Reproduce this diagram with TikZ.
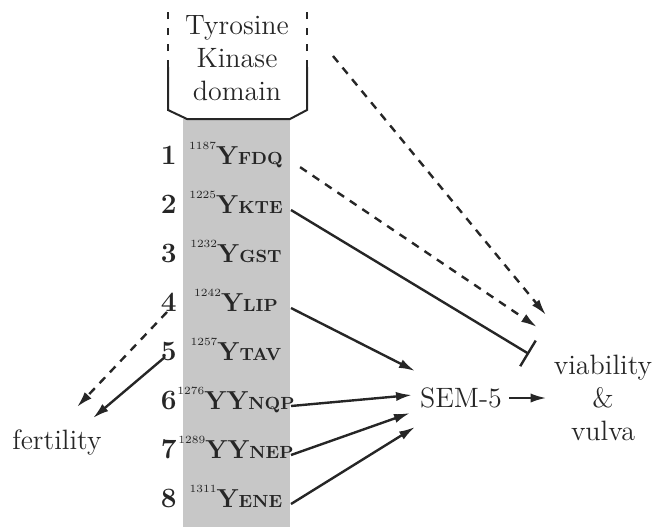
\documentclass[tikz,border=0pt]{standalone}
\usetikzlibrary{arrows.meta}

\begin{document}
\begin{tikzpicture}[x=0.5pt,y=-0.5pt,>={Latex[length=8pt,width=4.6pt]},semithick]
\tikzstyle{every node}=[text=black!85]
\tikzstyle{txt}=[font=\fontsize{14}{16.5}\selectfont, align=center]
\tikzstyle{con}=[draw=black!85, line width=1.2pt]
\tikzstyle{dsh}=[con, dash pattern=on 4pt off 3.5pt]
\useasboundingbox (0,0) rectangle (654,527);
% membrane column and kinase box
\fill[black!22] (183,119) rectangle (290,527);
\draw[line width=1pt, black!85] (168,67) -- (168,110) -- (187,119) -- (290,119) -- (307,110) -- (307,67);
\draw[line width=1pt, black!85, dash pattern=on 3.5pt off 4.5pt] (168,67) -- (168,6) (307,67) -- (307,6);
\node[txt] (kin) at (237,58) {Tyrosine\\Kinase\\domain};
% tyrosine sites
\foreach \i/\pos/\ys/\sc [evaluate=\i as \yb using 115+49*\i] in
  {1/1187/Y/FDQ, 2/1225/Y/KTE, 3/1232/Y/GST, 4/1242/Y/LIP,
   5/1257/Y/TAV, 6/1276/YY/NQP, 7/1289/YY/NEP, 8/1311/Y/ENE}
{
  \node[anchor=base east, font=\fontsize{14}{14}\selectfont\bfseries] (n\i) at (184,\yb) {\i};
  \node[anchor=base, inner sep=0pt] (r\i) at (236,\yb) {\raisebox{7.5pt}{\fontsize{5.5}{6}\selectfont\pos}{\fontsize{13}{14}\selectfont\bfseries\ys}{\fontsize{8.8}{10}\selectfont\bfseries\sc}};
  \coordinate (e\i) at (291,\yb-3);
}
% outputs
\node[txt] (sem) at (461,398) {SEM-5};
\node[txt] (via) at (603,398) {viability\\\&\\vulva};
\node[txt] (fer) at (57,442) {fertility};
\coordinate (kd) at (333,56);
\coordinate (t1) at (546,315);
\coordinate (t2) at (537,327);
\coordinate (bar) at (529,354);
\coordinate (s4) at (415,371);
\coordinate (s6) at (412,395);
\coordinate (s7) at (410,413);
\coordinate (s8) at (415,427);
\coordinate (f4) at (167,312);
\coordinate (f5) at (165,357);
\coordinate (g4) at (77,407);
\coordinate (g5) at (93,418);
% connectors
\draw[dsh,->] (kd) -- (t1);
\draw[dsh,->,shorten <=5.5pt] (e1) -- (t2);
\draw[con,-{Bar[width=15pt]}] (e2) -- (bar);
\draw[con,->] (e4) -- (s4);
\draw[con,->] (e6) -- (s6);
\draw[con,->] (e7) -- (s7);
\draw[con,->] (e8) -- (s8);
\draw[con,->] (sem) -- (via);
\draw[dsh,->] (f4) -- (g4);
\draw[con,->] (f5) -- (g5);
\end{tikzpicture}
\end{document}
